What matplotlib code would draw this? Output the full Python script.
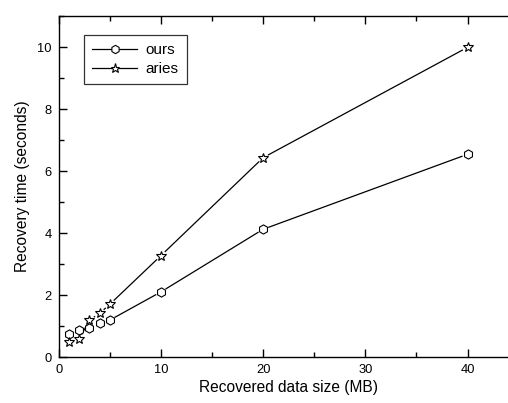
import numpy as np
import matplotlib
matplotlib.use("Agg")
import matplotlib.pyplot as plt
from matplotlib.lines import Line2D
from matplotlib.ticker import MultipleLocator

plt.rcParams["font.family"] = ["Liberation Sans", "DejaVu Sans"]

# recovered data size (MB) vs recovery time (s)
sizes = [1, 2, 3, 4, 5, 10, 20, 40]
ours = [0.74, 0.86, 0.95, 1.11, 1.19, 2.10, 4.12, 6.54]
aries = [0.47, 0.57, 1.19, 1.41, 1.70, 3.27, 6.43, 9.99]

DPI = 100
fig = plt.figure(figsize=(5.08, 4.03), dpi=DPI)
# axes runs a bit past the right edge of the figure
ax = fig.add_axes([58.7 / 508, (403 - 357) / 403, 460 / 508, 341 / 403])
ax.set_xlim(0, 45)
ax.set_ylim(0, 11)

for s in ax.spines.values():
    s.set_linewidth(1.0)

ax.xaxis.set_major_locator(MultipleLocator(10))
ax.xaxis.set_minor_locator(MultipleLocator(5))
ax.yaxis.set_major_locator(MultipleLocator(2))
ax.yaxis.set_minor_locator(MultipleLocator(1))
ax.tick_params(which="both", direction="in", top=True, right=True,
               labelsize=9.3, width=1.0, pad=5)
ax.tick_params(which="major", length=6)
ax.tick_params(which="minor", length=3.5)

ax.set_xlabel("Recovered data size (MB)", fontsize=11.2, labelpad=3)
ax.set_ylabel("Recovery time (seconds)", fontsize=11.2, labelpad=5)


def gapped_line(x, y, gap_px):
    # connect points but leave a small gap round each symbol
    pts = ax.transData.transform(np.column_stack([x, y]))
    for p0, p1 in zip(pts[:-1], pts[1:]):
        d = p1 - p0
        L = np.hypot(*d)
        if L <= 2 * gap_px:
            continue
        u = d / L
        a = p0 + u * gap_px
        b = p1 - u * gap_px
        ax.add_line(Line2D([a[0], b[0]], [a[1], b[1]], transform=None,
                           color="black", lw=0.9))


gapped_line(sizes, ours, 6.0)
gapped_line(sizes, aries, 6.0)

ax.plot(sizes, ours, ls="none", marker="h", ms=6.6, mfc="white",
        mec="black", mew=0.8)
ax.plot(sizes, aries, ls="none", marker="*", ms=7.5, mfc="white",
        mec="black", mew=0.8)

handles = [
    Line2D([], [], color="black", lw=0.9, marker="h", ms=6, mfc="white",
           mec="black", mew=0.8),
    Line2D([], [], color="black", lw=0.9, marker="*", ms=6.5, mfc="white",
           mec="black", mew=0.8),
]
leg = ax.legend(handles, ["ours", "aries"], loc="upper left",
                bbox_to_anchor=(25.3 / 460, 1 - 19 / 341), fontsize=11,
                frameon=True, fancybox=False, edgecolor="black",
                handlelength=2.95, handletextpad=0.5, borderpad=0.55,
                labelspacing=0.3, borderaxespad=0)
leg.get_frame().set_linewidth(0.9)

fig.savefig("out.png", dpi=DPI)
